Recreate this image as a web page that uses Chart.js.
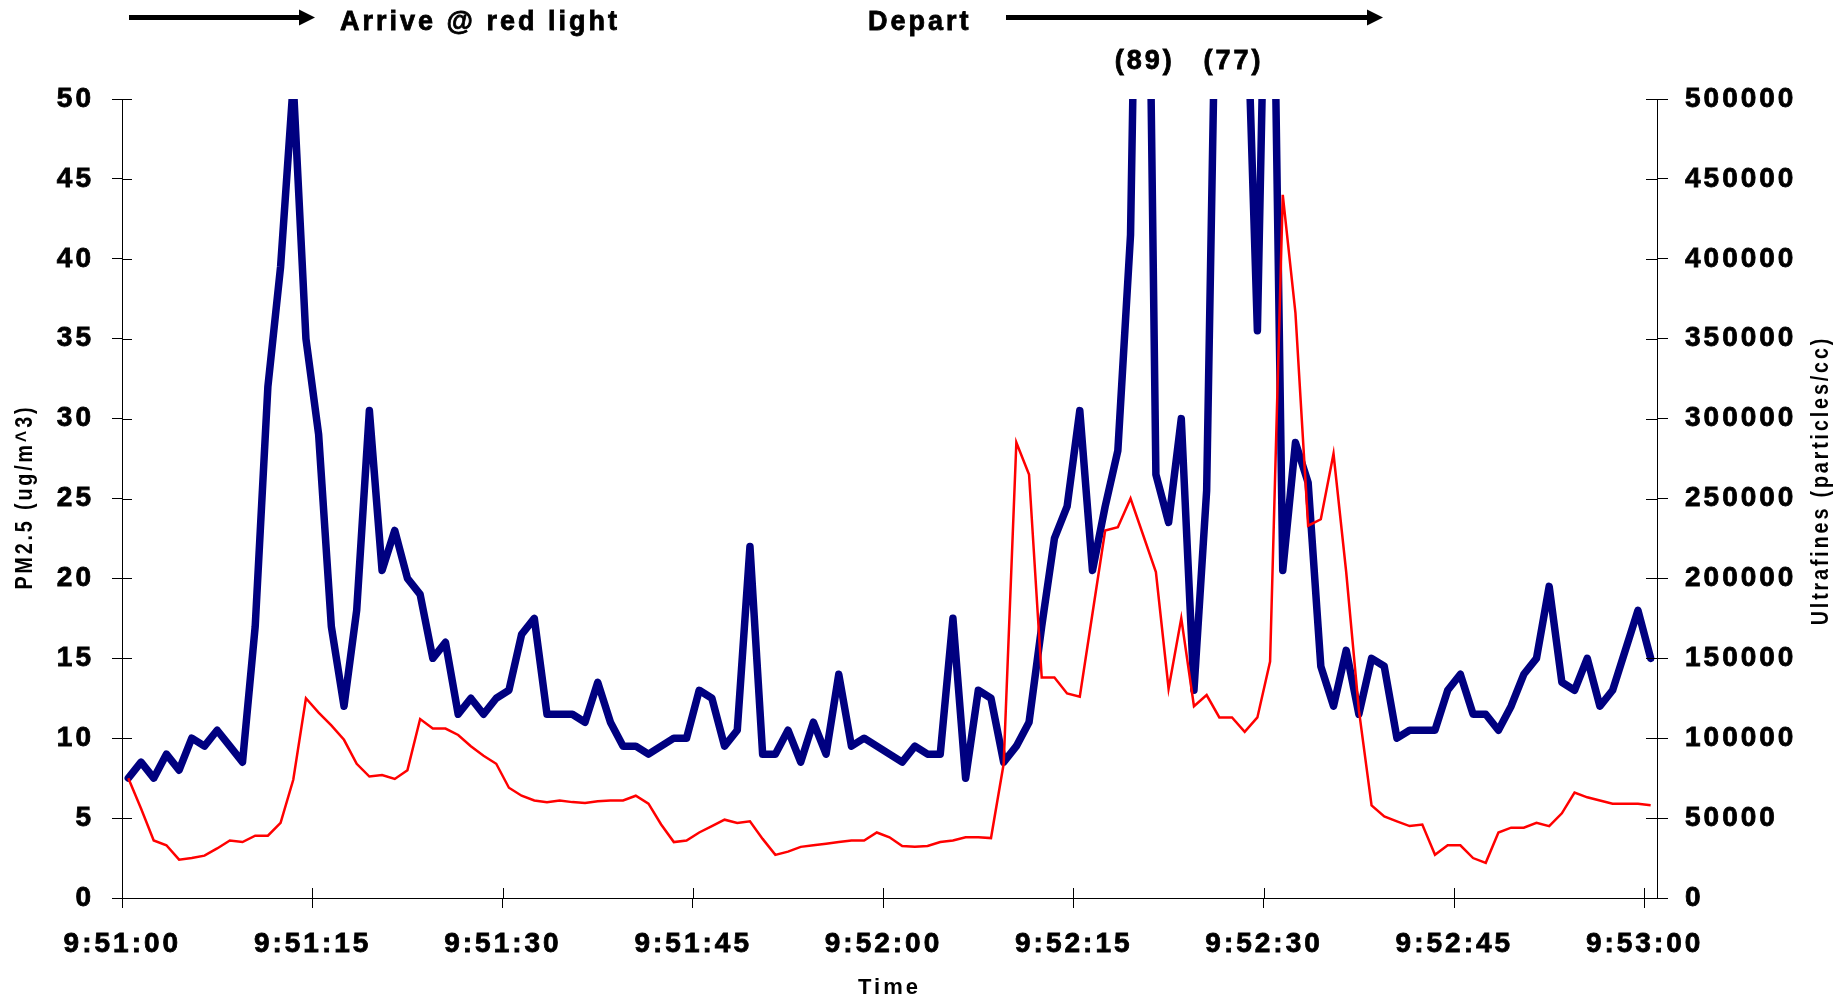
<!DOCTYPE html>
<html>
<head>
<meta charset="utf-8">
<script src="https://cdn.jsdelivr.net/npm/chart.js@4.4.1/dist/chart.umd.min.js"></script>
<style>
  html, body { margin: 0; padding: 0; background: #fff; }
  #wrap { width: 1845px; height: 998px; position: relative; }
</style>
</head>
<body>
<div id="wrap"><canvas id="myChart"></canvas></div>
<script>
// one reading per second, 9:51:00 .. 9:53:00
var times = [];
for (var s = 0; s <= 120; s++) {
    var m = 51 + Math.floor(s / 60), sec = s % 60;
    times.push('9:' + m + ':' + (sec < 10 ? '0' : '') + sec);
}

var xTickLabels = ['9:51:00', '9:51:15', '9:51:30', '9:51:45', '9:52:00',
                   '9:52:15', '9:52:30', '9:52:45', '9:53:00'];

// PM2.5 (ug/m^3), left axis
var pm25 = [
    7.5, 8.5, 7.5, 9, 8, 10, 9.5, 10.5, 9.5, 8.5,
    17, 32, 39.5, 51, 35, 29, 17, 12, 18, 30.5,
    20.5, 23, 20, 19, 15, 16, 11.5, 12.5, 11.5, 12.5,
    13, 16.5, 17.5, 11.5, 11.5, 11.5, 11, 13.5, 11, 9.5,
    9.5, 9, 9.5, 10, 10, 13, 12.5, 9.5, 10.5, 22,
    9, 9, 10.5, 8.5, 11, 9, 14, 9.5, 10, 9.5,
    9, 8.5, 9.5, 9, 9, 17.5, 7.5, 13, 12.5, 8.5,
    9.5, 11, 17, 22.5, 24.5, 30.5, 20.5, 24.5, 28, 41.5,
    89, 26.5, 23.5, 30, 13, 25.5, 71, 77, 61, 35.5,
    75, 20.5, 28.5, 26, 14.5, 12, 15.5, 11.5, 15, 14.5,
    10, 10.5, 10.5, 10.5, 13, 14, 11.5, 11.5, 10.5, 12,
    14, 15, 19.5, 13.5, 13, 15, 12, 13, 15.5, 18,
    15
];

// Ultrafines (particles/cc), right axis
var ultrafines = [
    75000, 56000, 36000, 33000, 24000, 25000, 26500, 31000, 36000, 35000,
    39000, 39000, 47000, 74000, 125000, 116000, 108000, 99000, 84000, 76000,
    77000, 74500, 80000, 112000, 106000, 106000, 102000, 95000, 89000, 84000,
    69000, 64000, 61000, 60000, 61000, 60000, 59500, 60500, 61000, 61000,
    64000, 59000, 46000, 35000, 36000, 41000, 45000, 49000, 47000, 48000,
    37000, 27000, 29000, 32000, 33000, 34000, 35000, 36000, 36000, 41000,
    38000, 32500, 32000, 32500, 35000, 36000, 38000, 38000, 37500, 84000,
    285000, 265000, 138000, 138000, 128000, 126000, 178000, 230000, 232000, 250000,
    227000, 204000, 131000, 175000, 120000, 127000, 113000, 113000, 104000, 113000,
    148000, 440000, 366000, 233000, 237000, 278000, 204000, 117500, 58000, 51000,
    48000, 45000, 46000, 27000, 33000, 33000, 25000, 22000, 41000, 44000,
    44000, 47000, 45000, 53000, 66000, 63000, 61000, 59000, 59000, 59000,
    58000
];

// PM2.5 peaks that run off the top of the axis, written as text
var offScalePeaks = [80, 87];

var fontFamily = '"Liberation Sans", Arial, sans-serif';
Chart.defaults.font.family = fontFamily;
Chart.defaults.color = '#000';

var tickFont = { size: 28, weight: 'bold' };

// the old chart spaces its letters out
var letterSpacing = {
    id: 'letterSpacing',
    beforeUpdate: function (chart) { chart.ctx.letterSpacing = '3px'; },
    beforeDraw: function (chart) { chart.ctx.letterSpacing = '3px'; }
};

// tick marks that cross the axis lines
var crossTicks = {
    id: 'crossTicks',
    afterDraw: function (chart) {
        var ctx = chart.ctx, a = chart.chartArea;
        var y = chart.scales.y, y1 = chart.scales.y1, x = chart.scales.x;
        ctx.save();
        ctx.strokeStyle = '#000';
        ctx.lineWidth = 1;
        ctx.beginPath();
        y.ticks.forEach(function (t) {
            var py = Math.round(y.getPixelForValue(t.value)) + 0.5;
            ctx.moveTo(a.left, py);
            ctx.lineTo(a.left + 10, py);
        });
        y1.ticks.forEach(function (t) {
            var py = Math.round(y1.getPixelForValue(t.value)) + 0.5;
            ctx.moveTo(a.right - 11, py);
            ctx.lineTo(a.right, py);
        });
        xTickLabels.forEach(function (lab) {
            var px = Math.round(x.getPixelForValue(times.indexOf(lab) - 0.5)) + 0.5;
            ctx.moveTo(px, a.bottom);
            ctx.lineTo(px, a.bottom - 10);
        });
        ctx.stroke();
        ctx.restore();
    }
};

function drawArrow(ctx, x1, x2, yy) {
    ctx.beginPath();
    ctx.lineWidth = 5;
    ctx.moveTo(x1, yy);
    ctx.lineTo(x2 - 12, yy);
    ctx.stroke();
    ctx.beginPath();
    ctx.moveTo(x2, yy);
    ctx.lineTo(x2 - 16, yy - 8);
    ctx.lineTo(x2 - 16, yy + 8);
    ctx.closePath();
    ctx.fill();
}

function boldText(ctx, txt, px, py) {
    ctx.fillText(txt, px, py);
    ctx.strokeText(txt, px, py);
}

// vertical axis titles: condensed bold, reading bottom to top
function sideTitle(ctx, txt, cx, cy) {
    ctx.save();
    ctx.font = 'bold 24px ' + fontFamily;
    ctx.letterSpacing = '3.5px';
    ctx.textAlign = 'center';
    ctx.textBaseline = 'middle';
    ctx.translate(cx, cy);
    ctx.rotate(-Math.PI / 2);
    ctx.scale(0.82, 1);
    ctx.fillText(txt, 1.75, 0);
    ctx.restore();
}

var notes = {
    id: 'notes',
    afterDraw: function (chart) {
        var ctx = chart.ctx, x = chart.scales.x, a = chart.chartArea;
        ctx.save();
        ctx.letterSpacing = '3px';
        ctx.fillStyle = '#000';
        ctx.strokeStyle = '#000';
        ctx.font = 'bold 27px ' + fontFamily;
        ctx.textBaseline = 'alphabetic';
        ctx.textAlign = 'left';
        drawArrow(ctx, 129, 315, 17.5);
        drawArrow(ctx, 1006, 1383, 17.5);
        ctx.lineWidth = 0.8;
        boldText(ctx, 'Arrive @ red light', 340, 30);
        boldText(ctx, 'Depart', 868, 30);
        ctx.textAlign = 'center';
        offScalePeaks.forEach(function (i) {
            boldText(ctx, '(' + pm25[i] + ')', x.getPixelForValue(i) + 1.5, 69);
        });
        sideTitle(ctx, 'PM2.5 (ug/m^3)', 25, (a.top + a.bottom) / 2);
        sideTitle(ctx, 'Ultrafines (particles/cc)', 1821.5, 482);
        ctx.restore();
    }
};

var ctx = document.getElementById('myChart').getContext('2d');
var myChart = new Chart(ctx, {
    type: 'line',
    data: {
        labels: times,
        datasets: [
            {
                label: 'PM2.5',
                data: pm25,
                yAxisID: 'y',
                borderColor: '#000080',
                borderWidth: 7.5,
                borderJoinStyle: 'round',
                borderCapStyle: 'round',
                pointRadius: 0,
                tension: 0,
                clip: 0,
                order: 2
            },
            {
                label: 'Ultrafines',
                data: ultrafines,
                yAxisID: 'y1',
                borderColor: '#ff0000',
                borderWidth: 2.5,
                pointRadius: 0,
                tension: 0,
                clip: 0,
                order: 1
            }
        ]
    },
    options: {
        responsive: true,
        maintainAspectRatio: false,
        animation: false,
        layout: { padding: { top: 99, left: 0, right: 0, bottom: 0 } },
        plugins: {
            legend: { display: false },
            tooltip: { enabled: false }
        },
        scales: {
            x: {
                offset: true,
                grid: {
                    offset: true,
                    drawOnChartArea: false,
                    tickLength: 10,
                    color: function (c) { return c.index % 15 === 0 ? '#000' : 'rgba(0,0,0,0)'; }
                },
                border: { color: '#000', width: 1 },
                ticks: {
                    autoSkip: false,
                    maxRotation: 0,
                    minRotation: 0,
                    padding: 19,
                    labelOffset: -6,
                    font: tickFont,
                    textStrokeColor: '#000',
                    textStrokeWidth: 0.8,
                    callback: function (v, i) {
                        return xTickLabels.indexOf(times[i]) >= 0 ? times[i] : '';
                    }
                },
                title: {
                    display: true,
                    text: 'Time',
                    font: { size: 22, weight: 'bold', lineHeight: 1.1 },
                    padding: { top: 0, bottom: -2 }
                },
                afterFit: function (s) { s.height = 100; }
            },
            y: {
                position: 'left',
                min: 0,
                max: 50,
                ticks: {
                    stepSize: 5,
                    padding: 18,
                    font: tickFont,
                    textStrokeColor: '#000',
                    textStrokeWidth: 0.8
                },
                grid: { drawOnChartArea: false, tickLength: 10, color: '#000' },
                border: { color: '#000', width: 1 },
                afterFit: function (s) { s.width = 122; }
            },
            y1: {
                position: 'right',
                min: 0,
                max: 500000,
                ticks: {
                    stepSize: 50000,
                    padding: 17,
                    font: tickFont,
                    textStrokeColor: '#000',
                    textStrokeWidth: 0.8,
                    callback: function (v) { return String(v); }
                },
                grid: { drawOnChartArea: false, tickLength: 11, color: '#000' },
                border: { color: '#000', width: 1 },
                afterFit: function (s) { s.width = 188; }
            }
        }
    },
    plugins: [letterSpacing, crossTicks, notes]
});
</script>
</body>
</html>
